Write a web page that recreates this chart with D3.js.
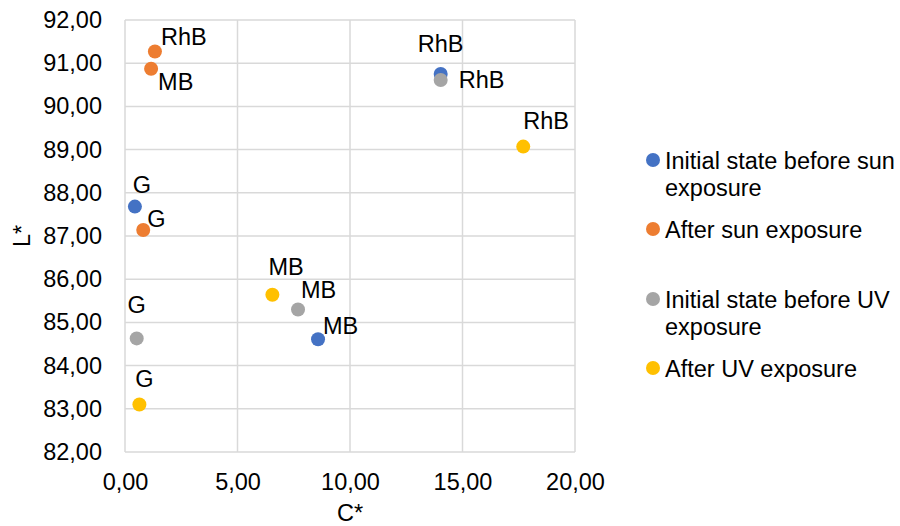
<!DOCTYPE html>
<html>
<head>
<meta charset="utf-8">
<script src="https://cdn.jsdelivr.net/npm/d3@7"></script>
<style>
  body { margin: 0; background: #fff; }
  svg text { font-family: "Liberation Sans", Arial, sans-serif; fill: #000; }
</style>
</head>
<body>
<div id="chart"></div>
<script>
// data
var seriesNames = ['Initial state before sun exposure', 'After sun exposure',
	'Initial state before UV exposure', 'After UV exposure']
var seriesColors = ['#4472c4', '#ed7d31', '#a5a5a5', '#ffc000']
var pointLabels = ['G', 'MB', 'RhB']
var cValues = [
	[0.44, 8.58, 14.03],
	[0.81, 1.16, 1.33],
	[0.52, 7.69, 14.03],
	[0.64, 6.55, 17.70]
]
var lValues = [
	[87.68, 84.61, 90.75],
	[87.14, 90.87, 91.27],
	[84.63, 85.30, 90.61],
	[83.10, 85.64, 89.07]
]
// label offset from the point [dx, dy, anchor]
var labelOffsets = [
	[[7, -14, 'middle'], [5, -5, 'start'], [0, -22, 'middle']],
	[[4, -3, 'start'], [7, 21, 'start'], [6, -7, 'start']],
	[[0, -25, 'middle'], [3, -11, 'start'], [18, 8, 'start']],
	[[5, -17, 'middle'], [-4, -20, 'start'], [0, -18, 'start']]
]
var xTicks = [0, 5, 10, 15, 20]
var yTicks = [82, 83, 84, 85, 86, 87, 88, 89, 90, 91, 92]
var legendLines = [['Initial state before sun', 'exposure'], ['After sun exposure'],
	['Initial state before UV', 'exposure'], ['After UV exposure']]

var width = 900, height = 526
var plot = {left: 125, right: 575, top: 20, bottom: 452}
var fontSize = '23.5px'
var fmt = function(v){ return d3.format('.2f')(v).replace('.', ',') }

var svg = d3.select('#chart').append('svg')
	.attr('width', width)
	.attr('height', height)

var x = d3.scaleLinear().domain([0, 20]).range([plot.left, plot.right])
var y = d3.scaleLinear().domain([82, 92]).range([plot.bottom, plot.top])

// gridlines
svg.append('g')
	.selectAll('line')
	.data(xTicks)
	.enter()
	.append('line')
		.attr('x1', d => x(d)).attr('x2', d => x(d))
		.attr('y1', plot.top).attr('y2', plot.bottom)
		.attr('stroke', '#d9d9d9').attr('stroke-width', 1.5)
svg.append('g')
	.selectAll('line')
	.data(yTicks)
	.enter()
	.append('line')
		.attr('x1', plot.left).attr('x2', plot.right)
		.attr('y1', d => y(d)).attr('y2', d => y(d))
		.attr('stroke', '#d9d9d9').attr('stroke-width', 1.5)

// axes (labels only, lines come from grid)
svg.append('g')
	.attr('transform', 'translate(0,' + plot.bottom + ')')
	.call(d3.axisBottom(x).tickValues(xTicks).tickFormat(fmt).tickSize(0).tickPadding(21))
svg.append('g')
	.attr('transform', 'translate(' + plot.left + ',0)')
	.call(d3.axisLeft(y).tickValues(yTicks).tickFormat(fmt).tickSize(0).tickPadding(23))
svg.selectAll('.domain').remove()
svg.selectAll('.tick text')
	.style('font-family', '"Liberation Sans", Arial, sans-serif')
	.style('font-size', fontSize)
	.attr('fill', '#000')

// axis titles
svg.append('text')
	.attr('text-anchor', 'middle')
	.attr('x', (plot.left + plot.right) / 2)
	.attr('y', 521)
	.style('font-size', fontSize)
	.text('C*')
svg.append('text')
	.attr('transform', 'rotate(-90)')
	.attr('text-anchor', 'middle')
	.attr('x', -(plot.top + plot.bottom) / 2)
	.attr('y', 30)
	.style('font-size', fontSize)
	.text('L*')

// points
var points = []
seriesNames.forEach(function(name, s){
	pointLabels.forEach(function(lab, i){
		points.push({s: s, i: i, c: cValues[s][i], l: lValues[s][i], label: lab})
	})
})

svg.append('g')
	.selectAll('circle')
	.data(points)
	.enter()
	.append('circle')
		.attr('cx', d => x(d.c))
		.attr('cy', d => y(d.l))
		.attr('r', 7)
		.attr('fill', d => seriesColors[d.s])

svg.append('g')
	.selectAll('text')
	.data(points)
	.enter()
	.append('text')
		.attr('x', d => x(d.c) + labelOffsets[d.s][d.i][0])
		.attr('y', d => y(d.l) + labelOffsets[d.s][d.i][1])
		.attr('text-anchor', d => labelOffsets[d.s][d.i][2])
		.style('font-size', fontSize)
		.text(d => d.label)

// legend
var legendY = [160, 229, 299, 368]
var legend = svg.append('g')
legendLines.forEach(function(lines, s){
	legend.append('circle')
		.attr('cx', 653)
		.attr('cy', legendY[s])
		.attr('r', 7)
		.attr('fill', seriesColors[s])
	lines.forEach(function(t, k){
		legend.append('text')
			.attr('x', 665)
			.attr('y', legendY[s] + 9 + k * 26.5)
			.style('font-size', fontSize)
			.text(t)
	})
})
</script>
</body>
</html>
